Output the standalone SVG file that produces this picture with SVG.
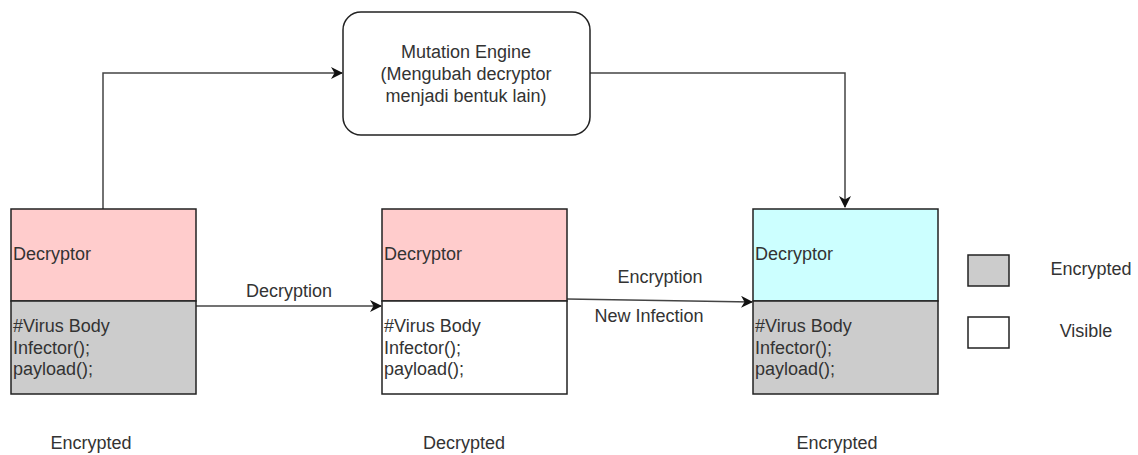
<svg xmlns="http://www.w3.org/2000/svg" width="1138" height="455" viewBox="0 0 1138 455">
<style>
text{font-family:"Liberation Sans",Arial,sans-serif;font-size:18px;fill:#333}
.c{text-anchor:middle}
.box{stroke:#222;stroke-width:1.5}
.conn{fill:none;stroke:#444;stroke-width:1.5}
</style>
<defs>
<marker id="arr" markerWidth="12" markerHeight="12" refX="11" refY="6" orient="auto" markerUnits="userSpaceOnUse">
<path d="M0,0 L12,6 L0,12 L3.5,6 Z" fill="#111"/>
</marker>
</defs>
<rect width="1138" height="455" fill="#fff"/>
<g id="connectors">
<path class="conn" d="M103,209 V73 H342" marker-end="url(#arr)"/>
<path class="conn" d="M590,73 H845 V207" marker-end="url(#arr)"/>
<path class="conn" d="M196,306 H381" marker-end="url(#arr)"/>
<path class="conn" d="M567,299 L752,302" marker-end="url(#arr)"/>
<text class="c" x="289" y="297">Decryption</text>
<text class="c" x="660" y="283">Encryption</text>
<text class="c" x="649" y="322">New Infection</text>
</g>
<g id="mutation-engine">
<rect class="box" x="343" y="12" width="247" height="123" rx="18" fill="#fff"/>
<text class="c" x="466" y="58">Mutation Engine</text>
<text class="c" x="466" y="80">(Mengubah decryptor</text>
<text class="c" x="466" y="102">menjadi bentuk lain)</text>
</g>
<g id="virus-encrypted">
<rect class="box" x="11" y="209" width="185" height="92" fill="#ffcccc"/>
<rect class="box" x="11" y="301" width="185" height="93" fill="#cccccc"/>
<text x="13" y="260">Decryptor</text>
<text x="13" y="332">#Virus Body</text>
<text x="13" y="354">Infector();</text>
<text x="13" y="375">payload();</text>
<text class="c" x="91" y="449">Encrypted</text>
</g>
<g id="virus-decrypted">
<rect class="box" x="382" y="209" width="185" height="92" fill="#ffcccc"/>
<rect class="box" x="382" y="301" width="185" height="93" fill="#ffffff"/>
<text x="384" y="260">Decryptor</text>
<text x="384" y="332">#Virus Body</text>
<text x="384" y="354">Infector();</text>
<text x="384" y="375">payload();</text>
<text class="c" x="464" y="449">Decrypted</text>
</g>
<g id="virus-new">
<rect class="box" x="753" y="209" width="185" height="92" fill="#ccffff"/>
<rect class="box" x="753" y="301" width="185" height="93" fill="#cccccc"/>
<text x="755" y="260">Decryptor</text>
<text x="755" y="332">#Virus Body</text>
<text x="755" y="354">Infector();</text>
<text x="755" y="375">payload();</text>
<text class="c" x="837" y="449">Encrypted</text>
</g>
<g id="legend-encrypted">
<rect class="box" x="968" y="255" width="41" height="31" fill="#cccccc"/>
<text class="c" x="1091" y="275">Encrypted</text>
</g>
<g id="legend-visible">
<rect class="box" x="968" y="317" width="41" height="31" fill="#ffffff"/>
<text class="c" x="1086" y="337">Visible</text>
</g>
</svg>
